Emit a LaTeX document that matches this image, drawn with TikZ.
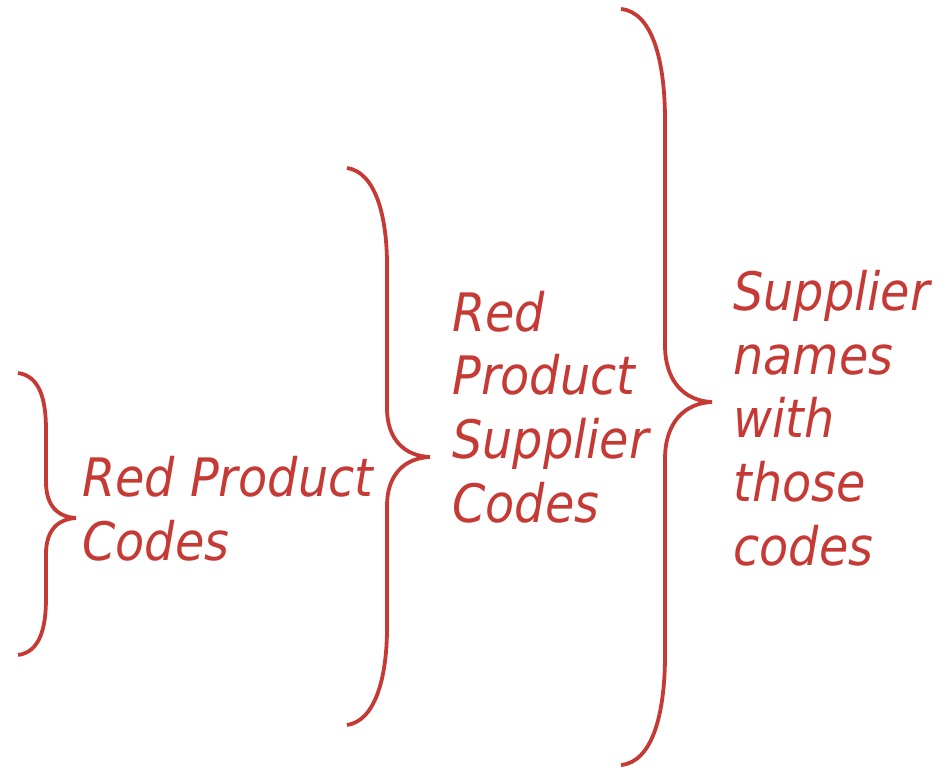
\documentclass[tikz,border=0pt]{standalone}
\usepackage{fontspec}
\setmainfont{DejaVu Sans Condensed}
\usepackage{tikz}
\definecolor{redcode}{HTML}{C63A36}

\begin{document}
\begin{tikzpicture}[x=0.5pt,y=-0.5pt,
    bracket/.style={draw=redcode,line width=1.9pt},
    label/.style={text=redcode,font=\fontsize{26.5}{31.8}\selectfont\itshape,
      align=left,anchor=base west,inner sep=0pt}]
        \useasboundingbox (0,0) rectangle (943,767);

        % three braces, growing to the right
        \draw[bracket] (18,373) .. controls (40,376) and (46,400) .. (46,430)
          -- (46,482) .. controls (46,506) and (58,517) .. (76,518)
          .. controls (58,519) and (46,530) .. (46,554)
          -- (46,598) .. controls (46,628) and (40,652) .. (18,655);
        \draw[bracket] (347,168) .. controls (375,172) and (387,215) .. (387,265)
          -- (387,408) .. controls (387,440) and (405,456) .. (430,457)
          .. controls (405,458) and (387,474) .. (387,506)
          -- (387,628) .. controls (387,678) and (375,721) .. (347,725);
        \draw[bracket] (621,9) .. controls (652,12) and (665,60) .. (665,120)
          -- (665,345) .. controls (665,382) and (685,401) .. (712,402)
          .. controls (685,403) and (665,422) .. (665,459)
          -- (665,655) .. controls (665,715) and (652,762) .. (621,765);

        % base anchor sits on the last line
        \path
        (82,560) node[label](codes) {Red Product\\Codes}
        (452,522) node[label](suppcodes) {Red\\Product\\Supplier\\Codes}
        (733,565) node[label](names) {Supplier\\names\\with\\those\\codes}
        ;
\end{tikzpicture}
\end{document}
